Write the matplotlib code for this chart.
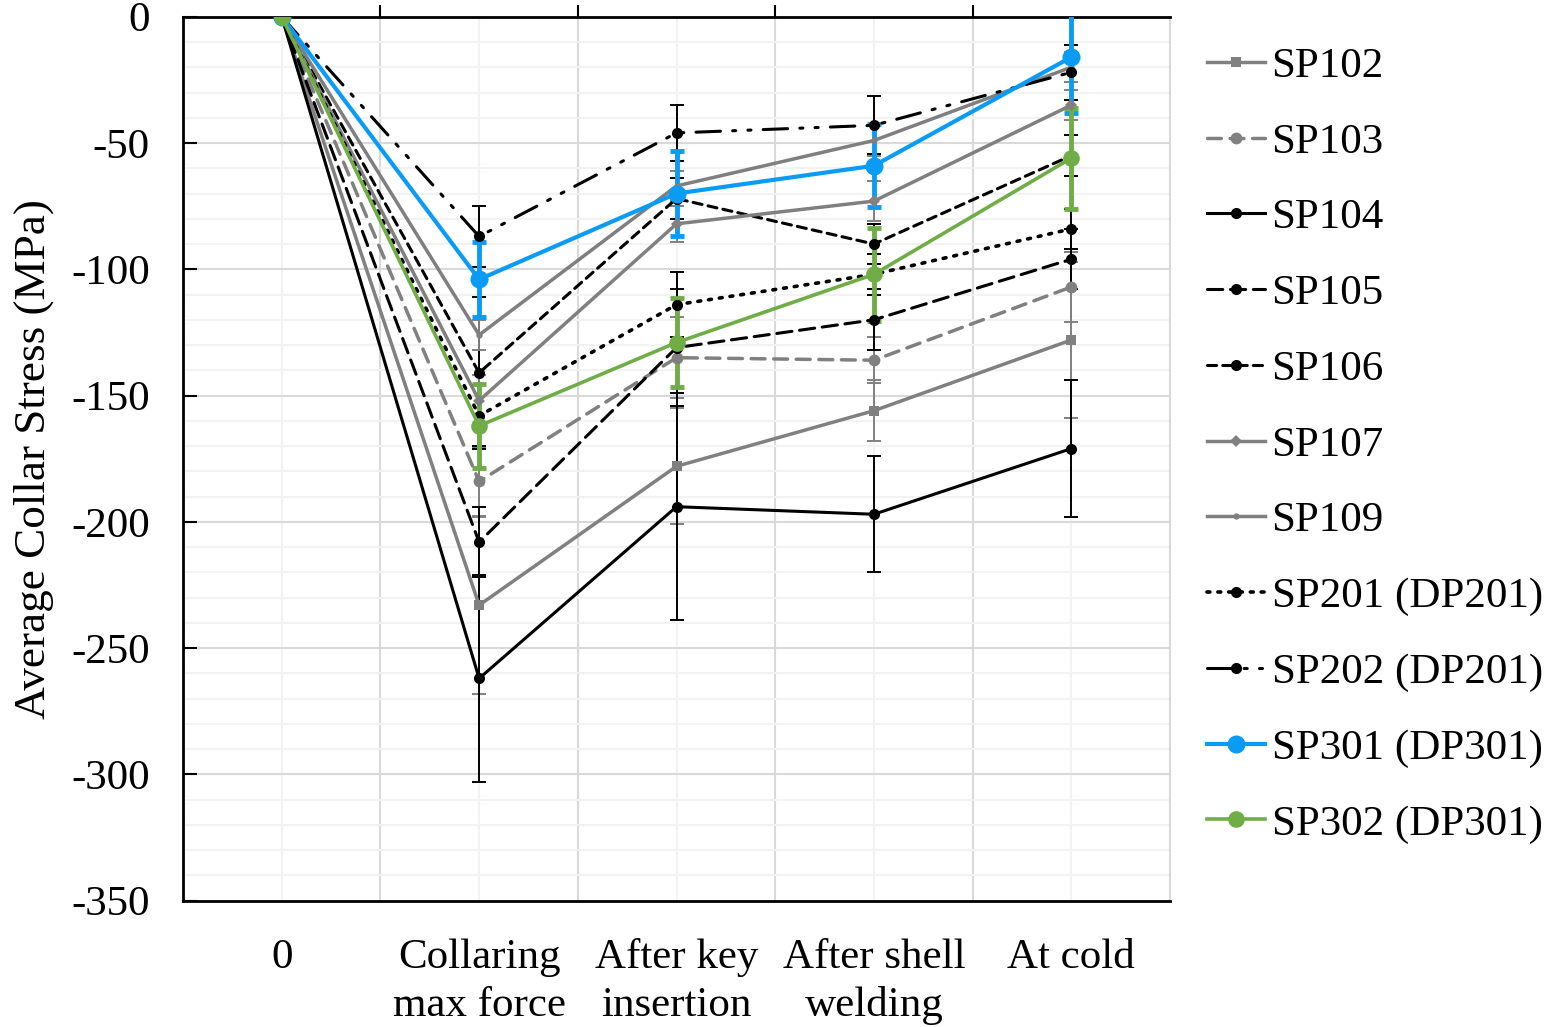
import numpy as np
import matplotlib
matplotlib.use('Agg')
import matplotlib.pyplot as plt
from matplotlib.ticker import MultipleLocator

plt.rcParams['font.family'] = ['Liberation Serif', 'DejaVu Serif']
plt.rcParams['axes.unicode_minus'] = False

categories = ['0', 'Collaring\nmax force', 'After key\ninsertion', 'After shell\nwelding', 'At cold']

sp102 = [0, -233, -178, -156, -128]
sp103 = [0, -184, -135, -136, -107]
sp104 = [0, -262, -194, -197, -171]
sp105 = [0, -208, -131, -120, -96]
sp106 = [0, -141, -72, -90, -55]
sp107 = [0, -152, -82, -73, -35]
sp109 = [0, -126, -67, -49, -20]
sp201 = [0, -158, -114, -102, -84]
sp202 = [0, -87, -46, -43, -22]
sp301 = [0, -104, -70, -59, -16]
sp302 = [0, -162, -129, -102, -56]

err102 = [0, 35, 23, 12, 31]
err103 = [0, 13.5, 16, 9, 14]
err104 = [0, 41, 45, 23, 27]
err105 = [0, 14, 23, 12, 12]
err106 = [0, 30, 8, 8, 8]
err107 = [0, 10, 7, 8, 6]
err109 = [0, 6, 6, 6, 6]
err201 = [0, 12, 13, 8, 8]
err202 = [0, 12, 11, 11.5, 11]
err301 = [0, 15, 17, 16.5, 22]
err302 = [0, 16.5, 17.5, 18.5, 20]

labels = ['SP102', 'SP103', 'SP104', 'SP105', 'SP106', 'SP107', 'SP109',
          'SP201 (DP201)', 'SP202 (DP201)', 'SP301 (DP301)', 'SP302 (DP301)']

gray = '#808080'
blue = '#0A9CF5'
green = '#70AD47'

# (values, errors, colour, linestyle, marker, markersize, linewidth, error width)
styles = [
    (sp102, err102, gray, '-', 's', 7.5, 2.5, 1.4),
    (sp103, err103, gray, (0, (4, 2.5)), 'o', 8.5, 2.5, 1.4),
    (sp104, err104, 'black', '-', 'o', 8, 2.2, 1.4),
    (sp105, err105, 'black', (0, (5, 2.5)), 'o', 8, 2.2, 1.4),
    (sp106, err106, 'black', (0, (3, 2)), 'o', 8, 2.2, 1.4),
    (sp107, err107, gray, '-', 'D', 6.5, 2.5, 1.4),
    (sp109, err109, '#7f7f7f', '-', 'o', 4.5, 2.5, 1.4),
    (sp201, err201, 'black', (0, (0.8, 2.2)), 'o', 8, 2.6, 1.4),
    (sp202, err202, 'black', (0, (8, 4, 1, 4, 1, 4)), 'o', 8, 2.2, 1.4),
    (sp301, err301, blue, '-', 'o', 13, 3.0, 3.5),
    (sp302, err302, green, '-', 'o', 12, 2.6, 3.5),
]

fig = plt.figure(figsize=(15.55, 10.27), dpi=100)
ax = fig.add_axes([0.1177, 0.1230, 0.6347, 0.8607])

x = np.arange(len(categories))
handles = []
for (vals, err, col, ls, mk, ms, lw, ew), lab in zip(styles, labels):
    ax.errorbar(x, vals, yerr=err, fmt='none', ecolor=col, elinewidth=ew,
                capsize=5, capthick=ew, zorder=3)
    ln, = ax.plot(x, vals, color=col, linestyle=ls, linewidth=lw, marker=mk,
                  markersize=ms, markeredgewidth=0, dash_capstyle='round',
                  label=lab, zorder=4)
    handles.append(ln)

ax.set_xlim(-0.5, len(categories) - 0.5)
ax.set_ylim(-350, 0)
ax.yaxis.set_major_locator(MultipleLocator(50))
ax.yaxis.set_minor_locator(MultipleLocator(10))
ax.set_xticks(x)
ax.set_xticklabels(categories, linespacing=1.32)
ax.set_xticks(x[:-1] + 0.5, minor=True)

ax.grid(which='major', axis='y', color='#d9d9d9', linewidth=1.5)
ax.grid(which='minor', axis='y', color='#f2f2f2', linewidth=1.5)
ax.grid(which='minor', axis='x', color='#d9d9d9', linewidth=1.5)
ax.grid(which='major', axis='x', color='#f2f2f2', linewidth=1.5)
ax.set_axisbelow(True)

ax.tick_params(axis='y', which='major', direction='in', length=10, width=1.5,
               labelsize=31, pad=24)
ax.tick_params(axis='y', which='minor', length=0)
ax.tick_params(axis='x', which='major', length=0, labelsize=31, pad=27)
ax.tick_params(axis='x', which='minor', top=True, bottom=False, direction='out',
               length=9, width=1.5)

for s in ['left', 'top', 'bottom']:
    ax.spines[s].set_linewidth(2)
    ax.spines[s].set_color('black')
ax.spines['right'].set_color('#d9d9d9')
ax.spines['right'].set_linewidth(1.5)

ax.set_ylabel('Average Collar Stress (MPa)', fontsize=32.5, labelpad=12)

ax.legend(handles=handles, loc='upper left', bbox_to_anchor=(1.007, 1.0),
          frameon=False, fontsize=31, handlelength=1.35, handletextpad=0.15,
          labelspacing=0.85, borderaxespad=0.3)

fig.savefig('out.png', dpi=100)
